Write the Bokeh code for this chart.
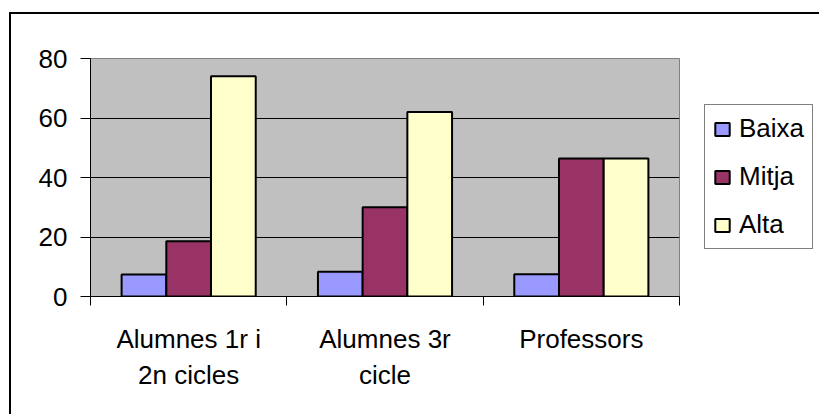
from bokeh.plotting import figure
from bokeh.models import (FactorRange, Range1d, LinearAxis, FixedTicker, Legend,
                          LegendItem, ColumnDataSource, Grid)
from bokeh.layouts import row
from bokeh.transform import dodge
from bokeh.embed import file_html
from bokeh.resources import INLINE

categories = ["Alumnes 1r i 2n cicles", "Alumnes 3r cicle", "Professors"]
tick_labels = ["Alumnes 1r i\n2n cicles", "Alumnes 3r\ncicle", "Professors"]
series = ["Baixa", "Mitja", "Alta"]
baixa = [7.4, 8.3, 7.5]
mitja = [18.6, 30.0, 46.4]
alta = [74.0, 62.0, 46.4]
colors = ["#9999FF", "#993366", "#FFFFCC"]
y_ticks = [0, 20, 40, 60, 80]

FONT = "Liberation Sans"
FS = "26px"

src = ColumnDataSource(dict(cat=categories, Baixa=baixa, Mitja=mitja, Alta=alta))

p = figure(x_range=FactorRange(*categories), y_range=Range1d(0, 80),
           width=673, height=400, output_backend="svg", toolbar_location=None,
           x_axis_type=None, y_axis_type=None,
           min_border_left=79, min_border_top=44, min_border_right=5,
           min_border_bottom=118)

p.background_fill_color = "#C0C0C0"
p.border_fill_color = "white"
p.outline_line_color = "#808080"
p.outline_line_width = 1

bw = 0.2277
offsets = [-bw, 0.0, bw]
for s, c, off in zip(series, colors, offsets):
    p.vbar(x=dodge("cat", off, range=p.x_range), top=s, width=bw, source=src,
           fill_color=c, line_color="black", line_width=2)

# y axis
yax = LinearAxis(ticker=FixedTicker(ticks=y_ticks))
yax.axis_line_color = "black"
yax.major_tick_in = 0
yax.major_tick_out = 10
yax.minor_tick_line_color = None
yax.major_label_text_font = FONT
yax.major_label_text_font_size = FS
yax.major_label_text_color = "black"
yax.major_label_standoff = 13
p.add_layout(yax, "left")

# x axis: labels at category centres, ticks at category boundaries
centres = [i + 0.5 for i in range(len(categories))]
bounds = [float(i) for i in range(len(categories) + 1)]
xax = LinearAxis(ticker=FixedTicker(ticks=centres, minor_ticks=bounds))
xax.major_label_overrides = {c: t for c, t in zip(centres, tick_labels)}
xax.axis_line_color = "black"
xax.major_tick_in = 0
xax.major_tick_out = 0
xax.minor_tick_in = 0
xax.minor_tick_out = 9
xax.minor_tick_line_color = "black"
xax.major_label_text_font = FONT
xax.major_label_text_font_size = FS
xax.major_label_text_color = "black"
xax.major_label_text_line_height = 1.2
xax.major_label_standoff = 18
p.add_layout(xax, "below")

grid = Grid(dimension=1, ticker=FixedTicker(ticks=y_ticks[1:-1]),
            grid_line_color="black", grid_line_width=1)
p.add_layout(grid)

# legend panel (separate figure so the legend can sit outside the plot area);
# its bar renderers are hidden, only their legend swatches show
pl = figure(x_range=FactorRange(*categories), y_range=Range1d(0, 80), width=135, height=400,
            output_backend="svg", toolbar_location=None,
            x_axis_type=None, y_axis_type=None,
            min_border_left=0, min_border_right=0, min_border_top=0, min_border_bottom=0)
pl.outline_line_color = None
pl.background_fill_color = "white"
pl.border_fill_color = "white"
pl.xgrid.visible = False
pl.ygrid.visible = False
leg_renderers = []
for s, c, off in zip(series, colors, offsets):
    r = pl.vbar(x=dodge("cat", off, range=pl.x_range), top=s, width=bw, source=src,
                fill_color=c, line_color="black", line_width=2)
    r.visible = False
    leg_renderers.append(r)

legend = Legend(items=[LegendItem(label=s, renderers=[r]) for s, r in zip(series, leg_renderers)],
                location=(20, 47))
legend.click_policy = "none"
legend.label_text_font = FONT
legend.label_text_font_size = FS
legend.label_text_color = "black"
legend.border_line_color = "black"
legend.border_line_width = 1
legend.background_fill_color = "white"
legend.background_fill_alpha = 1
legend.padding = 8
legend.margin = 0
legend.glyph_width = 18
legend.glyph_height = 16
legend.label_standoff = 8
legend.spacing = 17
legend.label_height = 30
pl.add_layout(legend, "center")

layout = row(p, pl)
layout.styles = {"margin-left": "9px", "margin-top": "12px",
                 "border-left": "2px solid black", "border-top": "2px solid black"}

open("out.html", "w").write(file_html(layout, INLINE))
